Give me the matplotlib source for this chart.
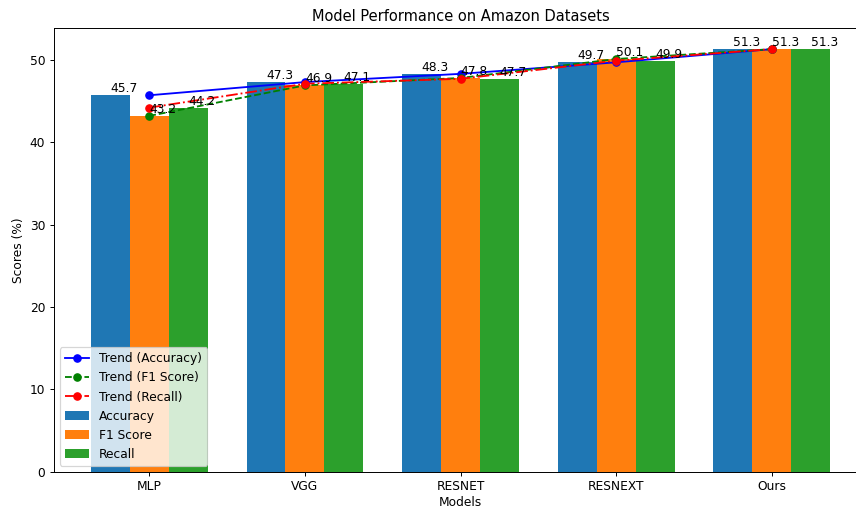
import numpy as np
import matplotlib
matplotlib.use("Agg")
import matplotlib.pyplot as plt

models = ["MLP", "VGG", "RESNET", "RESNEXT", "Ours"]
accuracy = [45.7, 47.3, 48.3, 49.7, 51.3]
f1_score = [43.2, 46.9, 47.8, 50.1, 51.3]
recall = [44.2, 47.1, 47.7, 49.9, 51.3]

x = np.arange(len(models))
width = 0.25

# smaller dpi so fonts/lines come out at the reference's scale
fig, ax = plt.subplots(figsize=(856 / 88, 509 / 88), dpi=88)

bars1 = ax.bar(x - width, accuracy, width, label="Accuracy")
bars2 = ax.bar(x, f1_score, width, label="F1 Score")
bars3 = ax.bar(x + width, recall, width, label="Recall")

# trend lines through the group centres
ax.plot(x, accuracy, "b-o", label="Trend (Accuracy)")
ax.plot(x, f1_score, "g--o", label="Trend (F1 Score)")
ax.plot(x, recall, "r-.o", label="Trend (Recall)")

for bars in (bars1, bars2, bars3):
    for bar in bars:
        h = bar.get_height()
        ax.text(bar.get_x() + bar.get_width() / 2, h, f"{h}", va="bottom")

ax.set_xlabel("Models", labelpad=2)
ax.set_ylabel("Scores (%)")
ax.set_title("Model Performance on Amazon Datasets")
ax.set_xticks(x)
ax.set_xticklabels(models)
ax.legend(loc="lower left")

# reference is cropped on the right, so the axes runs slightly past the edge
fig.subplots_adjust(left=0.063, right=1.013, top=0.945, bottom=0.073)
fig.savefig("out.png")
